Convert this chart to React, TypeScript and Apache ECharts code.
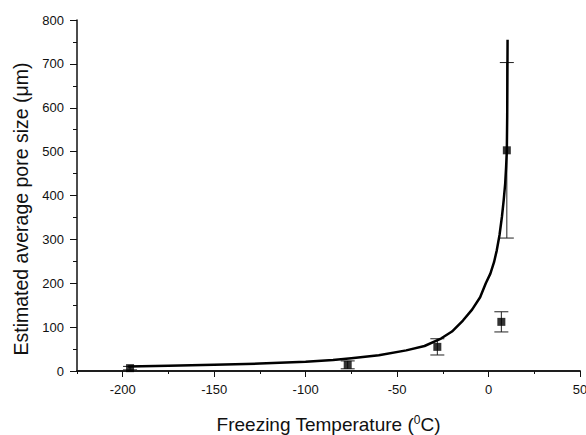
import React, { useEffect, useRef } from "react";
import * as echarts from "echarts";

const xMajorTicks = [-200, -150, -100, -50, 0, 50];
// measured points: [temperature, pore size, error]
const pointX = [-196, -77, -28, 7, 10];
const pointY = [6.5, 14, 55, 112, 503];
const pointErr = [4, 9, 18.5, 23, 200];
// fitted curve
const curveX = [-197, -175, -150, -125, -100, -85, -75, -60, -45, -35, -26, -20, -14, -9, -4.6, -1.5, 1, 3, 4.5, 6, 7.3, 8.3, 9.1, 9.6, 10.0, 10.2, 10.3, 10.4];
const curveY = [10, 12, 14.5, 17, 21, 25, 29, 36, 47, 57, 74, 90, 115, 140, 168, 200, 222, 248, 275, 310, 351, 390, 427, 465, 503, 580, 660, 755];

const FONT = "'Liberation Sans', Arial, Helvetica, sans-serif";

export default function App() {
  const ref = useRef<HTMLDivElement>(null);
  useEffect(() => {
    document.body.style.margin = "0";
    const chart = echarts.init(ref.current!, null, { renderer: "svg" });
    const points = pointX.map((x, i) => [x, pointY[i], pointErr[i]]);
    const curve = curveX.map((x, i) => [x, curveY[i]]);
    chart.setOption({
      animation: false,
      backgroundColor: "#fff",
      grid: { left: 77, right: 6, top: 20, bottom: 64, containLabel: false, outerBoundsMode: "none" },
      xAxis: [
        {
          type: "value",
          min: -225,
          max: 50,
          interval: 25,
          name: "Freezing Temperature ({sup|0}C)",
          nameLocation: "middle",
          nameGap: 43,
          nameTextStyle: {
            fontFamily: FONT,
            fontSize: 19,
            color: "#111",
            rich: { sup: { fontSize: 12, fontFamily: FONT, color: "#111", verticalAlign: "top", padding: [0, 0, 8, 0] } },
          },
          axisLine: { show: true, onZero: false, lineStyle: { color: "#111", width: 1.5 } },
          axisTick: { show: true, length: 6, customValues: xMajorTicks, lineStyle: { color: "#111" } },
          axisLabel: { customValues: xMajorTicks, fontFamily: FONT, fontSize: 13, color: "#111", margin: 12 },
          splitLine: { show: false },
        },
        {
          type: "value",
          min: -225,
          max: 50,
          interval: 25,
          position: "bottom",
          axisLine: { show: true, onZero: false, lineStyle: { color: "#111", width: 1.5 } },
          axisTick: { show: true, length: 3, lineStyle: { color: "#111" } },
          axisLabel: { show: false },
          splitLine: { show: false },
        },
      ],
      yAxis: {
        type: "value",
        min: 0,
        max: 800,
        interval: 100,
        name: "Estimated average pore size (\u03bcm)",
        nameLocation: "middle",
        nameGap: 45,
        nameTextStyle: { fontFamily: FONT, fontSize: 19.5, color: "#111", padding: [0, 27, 0, 0] },
        axisLine: { show: true, onZero: false, lineStyle: { color: "#111", width: 1.5 } },
        axisTick: { show: true, length: 7, lineStyle: { color: "#111" } },
        minorTick: { show: true, splitNumber: 2, length: 4, lineStyle: { color: "#111" } },
        axisLabel: { fontFamily: FONT, fontSize: 13, color: "#111", margin: 13 },
        splitLine: { show: false },
        minorSplitLine: { show: false },
      },
      series: [
        {
          type: "line",
          data: curve,
          showSymbol: false,
          symbol: "none",
          lineStyle: { color: "#000", width: 2.5, join: "round" },
          z: 3,
        },
        {
          type: "custom",
          data: points,
          renderItem: (params: any, api: any) => {
            const x = api.value(0);
            const y = api.value(1);
            const e = api.value(2);
            const top = api.coord([x, y + e]);
            const bot = api.coord([x, y - e]);
            const half = 7;
            const style = { stroke: "#222", lineWidth: 1 };
            return {
              type: "group",
              children: [
                { type: "line", shape: { x1: top[0], y1: top[1], x2: bot[0], y2: bot[1] }, style },
                { type: "line", shape: { x1: top[0] - half, y1: top[1], x2: top[0] + half, y2: top[1] }, style },
                { type: "line", shape: { x1: bot[0] - half, y1: bot[1], x2: bot[0] + half, y2: bot[1] }, style },
              ],
            };
          },
          z: 2,
        },
        {
          type: "scatter",
          data: points.map((p) => [p[0], p[1]]),
          symbol: "rect",
          symbolSize: 8,
          itemStyle: { color: "#000" },
          z: 4,
        },
      ],
    });
    return () => chart.dispose();
  }, []);
  return <div ref={ref} style={{ width: 586, height: 435 }} />;
}
